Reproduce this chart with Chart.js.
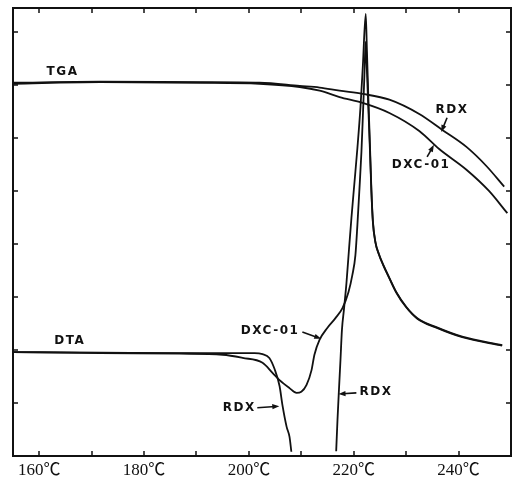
<!DOCTYPE html>
<html>
<head>
<meta charset="utf-8">
<script src="https://cdn.jsdelivr.net/npm/chart.js@4.4.1/dist/chart.umd.min.js"></script>
<style>
  html, body { margin: 0; padding: 0; background: #fff; }
  #wrap { width: 516px; height: 479px; }
</style>
</head>
<body>
<div id="wrap"><canvas id="c" width="516" height="479"></canvas></div>
<script>
// ---- data: temperature (°C) / signal (chart divisions) ----
const tgaRdxT = [155.0, 171.6, 190.6, 202.0, 209.7, 213.5, 217.3, 221.7, 226.8, 232.5, 236.9, 241.5, 245.3, 248.7];
const tgaRdxV = [7.04, 7.06, 7.05, 7.04, 6.98, 6.95, 6.89, 6.83, 6.72, 6.45, 6.15, 5.83, 5.47, 5.08];

const tgaDxcT = [155.0, 171.6, 190.6, 202.0, 209.7, 213.5, 217.3, 221.7, 226.8, 232.5, 236.3, 241.5, 245.8, 249.3];
const tgaDxcV = [7.02, 7.05, 7.04, 7.02, 6.96, 6.89, 6.77, 6.66, 6.47, 6.13, 5.79, 5.40, 5.00, 4.58];

// RDX DTA goes off scale (null = gap) between melting and decomposition
const dtaRdxT = [155.0, 171.6, 190.6, 201.1, 202.6, 203.9, 204.9, 205.85, 206.4, 207.2, 207.75, 208.1,
                 212.0,
                 216.65, 216.9, 217.18, 217.47, 217.75, 218.13, 218.61, 219.09, 219.56, 220.13, 220.7, 221.28, 221.75, 222.29,
                 222.51, 222.8, 223.09, 223.37, 223.66, 224.13, 224.8, 225.66, 226.8, 228.13, 230.04, 232.13, 235.75, 240.7, 248.32];
const dtaRdxV = [1.96, 1.95, 1.94, 1.94, 1.92, 1.85, 1.64, 1.32, 0.96, 0.55, 0.36, 0.08,
                 null,
                 0.09, 0.68, 1.25, 1.81, 2.38, 2.76, 3.26, 3.89, 4.49, 5.15, 5.81, 6.57, 7.38, 8.34,
                 7.66, 6.72, 5.87, 5.02, 4.42, 4.04, 3.81, 3.60, 3.36, 3.09, 2.81, 2.60, 2.43, 2.25, 2.09];

const dtaDxcT = [155.0, 171.6, 186.8, 195.0, 198.8, 202.6, 204.5, 205.85, 207.75, 209.1, 210.0, 211.0, 211.95, 212.5,
                 213.47, 214.99, 216.51, 217.85, 218.99, 219.75, 220.32, 220.7, 221.08, 221.47, 221.75, 222.04, 222.27,
                 222.51, 222.8, 223.09, 223.37, 223.66, 224.13, 224.8, 225.66, 226.8, 228.13, 230.04, 232.13, 235.75, 240.7, 248.32];
const dtaDxcV = [1.96, 1.94, 1.93, 1.91, 1.85, 1.76, 1.57, 1.43, 1.28, 1.19, 1.21, 1.34, 1.62, 1.91,
                 2.19, 2.42, 2.60, 2.79, 3.09, 3.42, 3.79, 4.36, 5.02, 5.74, 6.43, 7.19, 7.81,
                 7.28, 6.53, 5.77, 4.98, 4.40, 4.03, 3.80, 3.59, 3.35, 3.08, 2.80, 2.59, 2.42, 2.24, 2.08];

// axis
const xMin = 155, xMax = 250;
const yMin = 0, yMax = 8.45;
const xLabelTicks = [160, 180, 200, 220, 240];

// curve labels and their arrows (arrow ends in data units, null = no arrow)
const noteTexts = ['TGA', 'DTA', 'DXC-01', 'RDX', 'RDX', 'RDX', 'DXC-01'];
const noteT = [164.3, 165.7, 203.9, 198.0, 224.1, 238.6, 232.7];
const noteV = [7.25, 2.17, 2.36, 0.91, 1.21, 6.53, 5.49];
const arrowT0 = [null, null, 210.2, 201.6, 220.5, 237.8, 234.0];
const arrowV0 = [null, null, 2.34, 0.91, 1.19, 6.38, 5.64];
const arrowT1 = [null, null, 213.8, 205.8, 217.1, 236.7, 235.3];
const arrowV1 = [null, null, 2.21, 0.94, 1.17, 6.11, 5.87];

function pts(ts, vs) {
  return ts.map(function (t, i) { return { x: t, y: vs[i] }; });
}

const INK = '#111';

// inward tick marks + curve notes
const decorPlugin = {
  id: 'decor',
  afterDraw: function (chart) {
    const ctx = chart.ctx;
    const a = chart.chartArea;
    const xs = chart.scales.x;
    const ys = chart.scales.y;
    ctx.save();
    ctx.strokeStyle = INK;
    ctx.lineWidth = 1.5;
    ctx.beginPath();
    for (let t = 160; t <= 240; t += 10) {
      const px = Math.round(xs.getPixelForValue(t));
      ctx.moveTo(px, a.bottom); ctx.lineTo(px, a.bottom - 5);
      ctx.moveTo(px, a.top); ctx.lineTo(px, a.top + 5);
    }
    for (let v = 1; v <= 8; v++) {
      const py = Math.round(ys.getPixelForValue(v));
      ctx.moveTo(a.left, py); ctx.lineTo(a.left + 5, py);
      ctx.moveTo(a.right, py); ctx.lineTo(a.right - 5, py);
    }
    ctx.stroke();

    ctx.fillStyle = INK;
    ctx.font = 'bold 12px "DejaVu Sans", sans-serif';
    ctx.textAlign = 'center';
    ctx.textBaseline = 'middle';
    if ('letterSpacing' in ctx) ctx.letterSpacing = '1.5px';
    noteTexts.forEach(function (txt, i) {
      ctx.fillText(txt, xs.getPixelForValue(noteT[i]) + 0.75, ys.getPixelForValue(noteV[i]));
      if (arrowT0[i] === null) return;
      const x0 = xs.getPixelForValue(arrowT0[i]), y0 = ys.getPixelForValue(arrowV0[i]);
      const x1 = xs.getPixelForValue(arrowT1[i]), y1 = ys.getPixelForValue(arrowV1[i]);
      const ang = Math.atan2(y1 - y0, x1 - x0);
      ctx.lineWidth = 1.6;
      ctx.beginPath();
      ctx.moveTo(x0, y0); ctx.lineTo(x1 - 4 * Math.cos(ang), y1 - 4 * Math.sin(ang));
      ctx.stroke();
      ctx.beginPath();
      ctx.moveTo(x1, y1);
      ctx.lineTo(x1 - 7 * Math.cos(ang) + 2.6 * Math.sin(ang), y1 - 7 * Math.sin(ang) - 2.6 * Math.cos(ang));
      ctx.lineTo(x1 - 7 * Math.cos(ang) - 2.6 * Math.sin(ang), y1 - 7 * Math.sin(ang) + 2.6 * Math.cos(ang));
      ctx.closePath();
      ctx.fill();
    });
    ctx.restore();
  }
};

function lineSet(label, data) {
  return {
    label: label,
    data: data,
    borderColor: INK,
    borderWidth: 1.8,
    pointRadius: 0,
    fill: false,
    cubicInterpolationMode: 'monotone',
    spanGaps: false
  };
}

const frameBorder = { display: true, color: INK, width: 2 };
const hiddenGrid = { display: true, drawOnChartArea: false, drawTicks: false, color: 'rgba(0,0,0,0)' };

new Chart(document.getElementById('c'), {
  type: 'line',
  data: {
    datasets: [
      lineSet('TGA RDX', pts(tgaRdxT, tgaRdxV)),
      lineSet('TGA DXC-01', pts(tgaDxcT, tgaDxcV)),
      lineSet('DTA RDX', pts(dtaRdxT, dtaRdxV)),
      lineSet('DTA DXC-01', pts(dtaDxcT, dtaDxcV))
    ]
  },
  options: {
    responsive: false,
    animation: false,
    layout: { padding: 0 },
    plugins: { legend: { display: false }, tooltip: { enabled: false } },
    scales: {
      x: {
        type: 'linear', position: 'bottom', min: xMin, max: xMax,
        grid: hiddenGrid, border: frameBorder,
        afterFit: function (s) { s.height = 23; },
        ticks: {
          stepSize: 10, includeBounds: false, autoSkip: false, maxRotation: 0, padding: 4, color: INK,
          font: { family: '"Liberation Serif", "Noto Sans CJK SC", serif', size: 17 },
          callback: function (v) { return xLabelTicks.indexOf(v) !== -1 ? v + '℃' : ''; }
        }
      },
      xTop: {
        type: 'linear', position: 'top', min: xMin, max: xMax,
        grid: hiddenGrid, border: frameBorder, ticks: { display: false },
        afterFit: function (s) { s.height = 8; }
      },
      y: {
        type: 'linear', position: 'left', min: yMin, max: yMax,
        grid: hiddenGrid, border: frameBorder, ticks: { display: false, stepSize: 1 },
        afterFit: function (s) { s.width = 13; }
      },
      yRight: {
        type: 'linear', position: 'right', min: yMin, max: yMax,
        grid: hiddenGrid, border: frameBorder, ticks: { display: false },
        afterFit: function (s) { s.width = 5; }
      }
    }
  },
  plugins: [decorPlugin]
});
</script>
</body>
</html>
